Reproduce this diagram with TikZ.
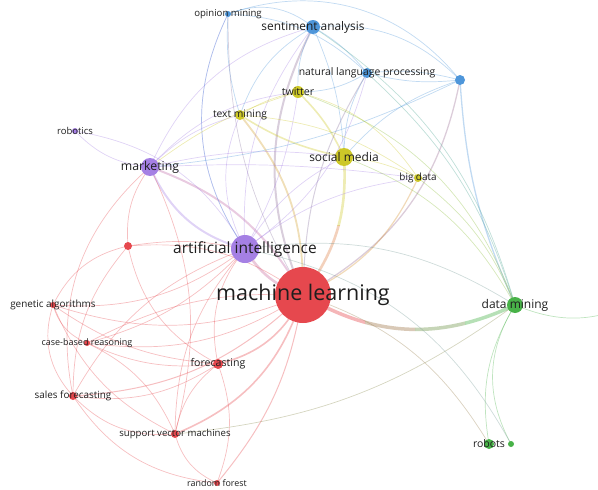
\documentclass[tikz,border=0pt]{standalone}
\usepackage{fontspec}
\setmainfont{Open Sans}
\pgfdeclarelayer{bg}
\pgfsetlayers{bg,main}
\definecolor{cred}{RGB}{230,72,78}
\definecolor{cgreen}{RGB}{72,178,72}
\definecolor{cblue}{RGB}{78,150,218}
\definecolor{cyel}{RGB}{205,200,40}
\definecolor{cpur}{RGB}{165,128,228}
\definecolor{ctext}{RGB}{30,30,30}
\newcommand\fs[1]{\fontsize{#1}{#1}\selectfont}
\begin{document}
\begin{tikzpicture}[x=1pt,y=-1pt,
  vnode/.style={circle,inner sep=0pt,minimum size=#1},
  lbl/.style={inner sep=0pt,text=ctext,anchor=center},
  ed/.style={draw=#1,draw opacity=0.35,line width=0.7pt},
  lw/.style={line width=#1}]
\useasboundingbox (0,0) rectangle (598,490);
% nodes
\node[vnode=56pt,fill=cred] (ml) at (303,295) {};
\node[vnode=28pt,fill=cpur] (ai) at (245,249) {};
\node[vnode=18pt,fill=cpur] (mk) at (150,167) {};
\node[vnode=6pt,fill=cpur] (rb) at (75,131) {};
\node[vnode=10pt,fill=cyel] (tm) at (240,115) {};
\node[vnode=12pt,fill=cyel] (tw) at (298,92) {};
\node[vnode=18pt,fill=cyel] (sm) at (344,157) {};
\node[vnode=8pt,fill=cyel] (bd) at (418,178) {};
\node[vnode=14pt,fill=cblue] (sa) at (313,27) {};
\node[vnode=6pt,fill=cblue] (om) at (228,14) {};
\node[vnode=10pt,fill=cblue] (nlp) at (367,73) {};
\node[vnode=10pt,fill=cblue] (bu) at (460,80) {};
\node[vnode=8pt,fill=cred] (ru) at (128,246) {};
\node[vnode=16pt,fill=cgreen] (dm) at (515,305) {};
\node[vnode=10pt,fill=cgreen] (rs) at (489,444) {};
\node[vnode=6pt,fill=cgreen] (sg) at (511,444) {};
\node[vnode=6pt,fill=cred] (ga) at (53,305) {};
\node[vnode=6pt,fill=cred] (cbr) at (87,343) {};
\node[vnode=8pt,fill=cred] (sf) at (73,396) {};
\node[vnode=10pt,fill=cred] (fc) at (218,364) {};
\node[vnode=8pt,fill=cred] (svm) at (175,434) {};
\node[vnode=6pt,fill=cred] (rf) at (217,483) {};
\coordinate (out) at (640,300);
% labels
\node[lbl,font=\fs{21.5}] (ml-l) at (ml) {machine learning};
\node[lbl,font=\fs{15.5}] (ai-l) at (ai) {artificial intelligence};
\node[lbl,font=\fs{12.3}] (mk-l) at (mk) {marketing};
\node[lbl,font=\fs{9.5}] (rb-l) at (rb) {robotics};
\node[lbl,font=\fs{10.3}] (tm-l) at (tm) {text mining};
\node[lbl,font=\fs{10.6}] (tw-l) at (tw) {twitter};
\node[lbl,font=\fs{12}] (sm-l) at (sm) {social media};
\node[lbl,font=\fs{9.9}] (bd-l) at (bd) {big data};
\node[lbl,font=\fs{11.9}] (sa-l) at (sa) {sentiment analysis};
\node[lbl,font=\fs{9.6}] (om-l) at (om) {opinion mining};
\node[lbl,font=\fs{10.4}] (nlp-l) at (nlp) {natural language processing};
\node[lbl,font=\fs{12}] (dm-l) at (dm) {data mining};
\node[lbl,font=\fs{10.5}] (rs-l) at (rs) {robots};
\node[lbl,font=\fs{9.9}] (ga-l) at (ga) {genetic algorithms};
\node[lbl,font=\fs{9}] (cbr-l) at (cbr) {case-based reasoning};
\node[lbl,font=\fs{9.9}] (sf-l) at (sf) {sales forecasting};
\node[lbl,font=\fs{10.6}] (fc-l) at (fc) {forecasting};
\node[lbl,font=\fs{9.6}] (svm-l) at (svm) {support vector machines};
\node[lbl,font=\fs{8.9}] (rf-l) at (rf) {random forest};
% edges
\begin{pgfonlayer}{bg}
% thick, with stepped gradient
\begin{scope}
\clip (0,0) rectangle (365,490);
\draw[ed=cred,draw opacity=0.4,lw=3.5pt] (ml.center) to[bend right=28] (dm.center);
\end{scope}
\begin{scope}
\clip (365,0) rectangle (415,490);
\draw[ed=cred!55!cgreen,draw opacity=0.4,lw=3.5pt] (ml.center) to[bend right=28] (dm.center);
\end{scope}
\begin{scope}
\clip (415,0) rectangle (465,490);
\draw[ed=cred!25!cgreen,draw opacity=0.4,lw=3.5pt] (ml.center) to[bend right=28] (dm.center);
\end{scope}
\begin{scope}
\clip (465,0) rectangle (598,490);
\draw[ed=cgreen,draw opacity=0.4,lw=3.5pt] (ml.center) to[bend right=28] (dm.center);
\end{scope}
\begin{scope}
\clip (0,225) rectangle (598,490);
\draw[ed=cyel!40!cred,lw=2.6pt] (ml.center) to[bend right=20] (sm.center);
\end{scope}
\begin{scope}
\clip (0,0) rectangle (598,225);
\draw[ed=cyel,lw=2.6pt] (ml.center) to[bend right=20] (sm.center);
\end{scope}
\draw[ed=cblue!55!cred,lw=2pt] (ml.center) to[bend left=25] (sa.center);
\draw[ed=cpur!50!cred,lw=2.6pt] (ml.center) to[bend left=20] (ai.center);
\draw[ed=cred,lw=1.6pt] (ml.center) to[bend left=25] (fc.center);
\draw[ed=cred,lw=1.6pt] (ml.center) to[bend left=25] (svm.center);
\draw[ed=cblue!50!cred,lw=1.3pt] (ml.center) to[bend right=25] (bu.center);
\draw[ed=cpur,lw=2pt] (mk.center) to[bend right=25] (ai.center);
\draw[ed=cpur!60!cred,lw=2pt] (mk.center) to[bend left=20] (ml.center);
\draw[ed=cyel!70!cred,lw=1.8pt] (tm.center) to[bend left=20] (ml.center);
\draw[ed=cyel,lw=1.6pt] (tw.center) to[bend left=10] (sm.center);
\draw[ed=cyel,lw=1.6pt] (tm.center) to[bend right=10] (sm.center);
\draw[ed=cyel!60!cred,lw=1.2pt] (bd.center) to[bend left=20] (ml.center);
\draw[ed=cblue,lw=1.3pt] (bu.center) to[bend right=10] (dm.center);
% red
\draw[ed=cred] (ml.center) to[bend left=20] (ga.center);
\draw[ed=cred] (ml.center) to[bend left=20] (cbr.center);
\draw[ed=cred] (ml.center) to[bend right=15] (cbr.center);
\draw[ed=cred,lw=1pt] (ml.center) to[bend left=20] (sf.center);
\draw[ed=cred,lw=1pt] (ml.center) to[bend left=15] (rf.center);
\draw[ed=cred] (ml.center) to[bend right=20] (ru.center);
\draw[ed=cred] (ai.center) to[bend right=25] (fc.center);
\draw[ed=cred] (ai.center) to[bend left=20] (ga.center);
\draw[ed=cred] (ai.center) to[bend left=15] (cbr.center);
\draw[ed=cred] (ai.center) to[bend right=20] (sf.center);
\draw[ed=cred] (ai.center) to[bend right=20] (svm.center);
\draw[ed=cred] (fc.center) to[bend left=20] (sf.center);
\draw[ed=cred] (fc.center) to[bend left=20] (rf.center);
\draw[ed=cred] (fc.center) to[bend right=20] (svm.center);
\draw[ed=cred] (svm.center) to[bend left=25] (sf.center);
\draw[ed=cred] (svm.center) to[bend right=25] (rf.center);
\draw[ed=cred] (svm.center) to[bend left=20] (ga.center);
\draw[ed=cred] (ga.center) to[bend right=25] (cbr.center);
\draw[ed=cred] (ga.center) to[bend right=30] (sf.center);
\draw[ed=cred] (ga.center) to[bend left=25] (ru.center);
\draw[ed=cred] (ru.center) to[bend left=20] (mk.center);
\draw[ed=cred] (ru.center) to[bend right=20] (sf.center);
\draw[ed=cred] (ru.center) to[bend right=25] (fc.center);
\draw[ed=cred] (ru.center) to[bend left=10] (ai.center);
\draw[ed=cred] (sf.center) to[bend left=30] (mk.center);
\draw[ed=cred] (cbr.center) to[bend right=15] (fc.center);
\draw[ed=cred] (cbr.center) to[bend left=20] (svm.center);
\draw[ed=cred] (ga.center) to[bend right=15] (fc.center);
\draw[ed=cred] (svm.center) to[bend right=20] (mk.center);
\draw[ed=cred] (rf.center) to[bend left=25] (sf.center);
% purple
\draw[ed=cpur] (mk.center) to[bend left=20] (rb.center);
\draw[ed=cpur] (rb.center) to[bend left=25] (ai.center);
\draw[ed=cpur] (mk.center) to[bend left=10] (sm.center);
\draw[ed=cpur] (mk.center) to[bend left=25] (sa.center);
\draw[ed=cpur] (mk.center) to[bend left=20] (tw.center);
\draw[ed=cpur] (mk.center) to[bend left=15] (tm.center);
\draw[ed=cpur] (mk.center) to[bend left=5] (bd.center);
\draw[ed=cpur] (ai.center) to[bend left=25] (tm.center);
\draw[ed=cpur] (ai.center) to[bend left=20] (sa.center);
\draw[ed=cpur] (ai.center) to[bend left=30] (om.center);
\draw[ed=cpur] (ai.center) to[bend left=15] (sm.center);
\draw[ed=cpur] (ai.center) to[bend right=20] (nlp.center);
\draw[ed=cpur] (ai.center) to[bend right=10] (tw.center);
\draw[ed=cpur] (ai.center) to[bend left=15] (bd.center);
\draw[ed=cpur!50!cgreen] (ai.center) to[bend left=20] (dm.center);
% blue
\draw[ed=cblue] (sa.center) to[bend right=30] (om.center);
\draw[ed=cblue] (sa.center) to[bend left=10] (nlp.center);
\draw[ed=cblue] (sa.center) to[bend left=25] (bu.center);
\draw[ed=cblue] (om.center) to[bend left=35] (bu.center);
\draw[ed=cblue] (nlp.center) to[bend left=10] (bu.center);
\draw[ed=cblue] (nlp.center) to[bend right=10] (bu.center);
\draw[ed=cblue] (sa.center) to[bend right=15] (tw.center);
\draw[ed=cblue] (sa.center) to[bend right=20] (tm.center);
\draw[ed=cblue] (om.center) to[bend right=10] (tm.center);
\draw[ed=cblue] (om.center) to[bend right=30] (ai.center);
\draw[ed=cblue] (nlp.center) to[bend right=15] (sm.center);
\draw[ed=cblue] (nlp.center) to[bend left=15] (tw.center);
\draw[ed=cblue] (sa.center) to[bend left=10] (sm.center);
\draw[ed=cblue!50!cgreen] (sa.center) to[bend left=20] (dm.center);
\draw[ed=cblue!50!cgreen] (nlp.center) to[bend left=15] (dm.center);
\draw[ed=cblue!60!cred] (om.center) to[bend right=15] (ml.center);
\draw[ed=cblue!60!cred,lw=1pt] (nlp.center) to[bend right=15] (ml.center);
\draw[ed=cblue] (bu.center) to[bend right=15] (sm.center);
\draw[ed=cblue] (om.center) to[bend left=20] (nlp.center);
\draw[ed=cblue] (bu.center) to[bend left=10] (mk.center);
% yellow
\draw[ed=cyel] (tm.center) to[bend left=10] (tw.center);
\draw[ed=cyel] (sm.center) to[bend left=10] (bd.center);
\draw[ed=cyel] (tm.center) to[bend left=15] (bd.center);
\draw[ed=cyel] (tw.center) to[bend left=20] (bd.center);
\draw[ed=cyel!50!cgreen] (sm.center) to[bend left=20] (dm.center);
\draw[ed=cyel!50!cgreen] (bd.center) to[bend left=15] (dm.center);
\draw[ed=cyel!50!cgreen] (tw.center) to[bend left=25] (dm.center);
\draw[ed=cyel] (tw.center) to[bend right=10] (mk.center);
% green
\draw[ed=cgreen] (dm.center) to[bend right=20] (rs.center);
\draw[ed=cgreen] (dm.center) to[bend right=30] (sg.center);
\draw[ed=cgreen!60!cred] (dm.center) to[bend left=15] (svm.center);
\draw[ed=cgreen] (dm.center) to[bend right=25] (out);
\draw[ed=cgreen!50!cred] (ml.center) to[bend left=20] (rs.center);
\draw[ed=cgreen!50!cpur] (ai.center) to[bend left=25] (sg.center);
\end{pgfonlayer}
\end{tikzpicture}
\end{document}
